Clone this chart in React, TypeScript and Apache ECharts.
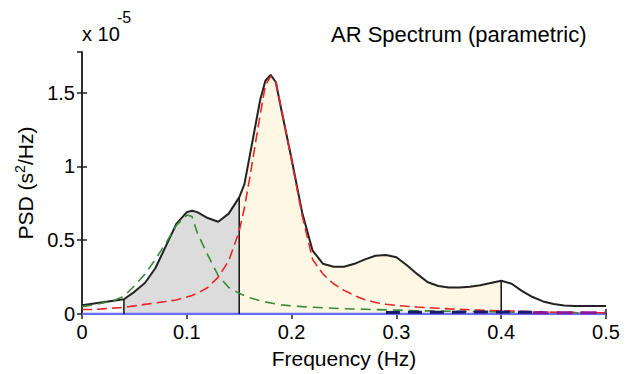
import React, { useEffect, useRef } from "react";
import * as echarts from "echarts";

// Frequency grid (Hz) shared by total PSD and components
const freq = [0, 0.01, 0.02, 0.03, 0.04, 0.05, 0.06, 0.07, 0.08, 0.09, 0.1, 0.105, 0.11, 0.12, 0.13, 0.14, 0.15, 0.155, 0.16, 0.17, 0.175, 0.18, 0.185, 0.19, 0.2, 0.21, 0.22, 0.23, 0.24, 0.25, 0.26, 0.27, 0.28, 0.29, 0.3, 0.31, 0.32, 0.33, 0.34, 0.35, 0.36, 0.37, 0.38, 0.39, 0.4, 0.41, 0.42, 0.43, 0.44, 0.45, 0.46, 0.47, 0.48, 0.49, 0.5];

// Total PSD (x 1e-5 s^2/Hz)
const totalPsd = [0.06, 0.07, 0.08, 0.09, 0.1, 0.15, 0.21, 0.31, 0.46, 0.61, 0.69, 0.7, 0.69, 0.65, 0.625, 0.68, 0.79, 0.88, 1.07, 1.45, 1.58, 1.62, 1.57, 1.39, 1.05, 0.69, 0.43, 0.34, 0.32, 0.32, 0.34, 0.37, 0.395, 0.4, 0.385, 0.33, 0.27, 0.215, 0.19, 0.18, 0.18, 0.185, 0.195, 0.21, 0.225, 0.205, 0.155, 0.115, 0.085, 0.068, 0.058, 0.054, 0.054, 0.054, 0.054];

// HF component (red dashed)
const hfComp = [0.03, 0.03, 0.035, 0.04, 0.045, 0.055, 0.065, 0.075, 0.085, 0.095, 0.115, 0.125, 0.14, 0.18, 0.25, 0.36, 0.56, 0.72, 0.92, 1.35, 1.55, 1.61, 1.57, 1.4, 1.04, 0.67, 0.37, 0.27, 0.205, 0.16, 0.125, 0.097, 0.078, 0.066, 0.058, 0.052, 0.047, 0.043, 0.039, 0.035, 0.032, 0.029, 0.026, 0.024, 0.022, 0.02, 0.018, 0.016, 0.014, 0.012, 0.011, 0.01, 0.009, 0.008, 0.008];

// LF component (green dashed)
const lfComp = [0.05, 0.06, 0.075, 0.09, 0.12, 0.19, 0.27, 0.37, 0.48, 0.6, 0.67, 0.66, 0.55, 0.4, 0.26, 0.18, 0.14, 0.125, 0.11, 0.09, 0.082, 0.075, 0.068, 0.062, 0.055, 0.05, 0.046, 0.042, 0.039, 0.036, 0.034, 0.032, 0.03, 0.028, 0.026, 0.024, 0.022, 0.021, 0.02, 0.019, 0.018, 0.017, 0.016, 0.015, 0.014, 0.013, 0.012, 0.011, 0.01, 0.01, 0.009, 0.009, 0.008, 0.008, 0.008];

// Minor components near zero
const navyFreq = [0.29, 0.33, 0.37, 0.41, 0.44];
const navyComp = [0.01, 0.012, 0.013, 0.013, 0.01];
const purpleFreq = [0.43, 0.5];
const purpleComp = [0.008, 0.008];

// Band limits (Hz)
const bandEdges = [0.04, 0.15, 0.4];
const lfBand = [0.04, 0.15];
const hfBand = [0.15, 0.4];

// Tick labels
const xTicks = [0, 0.1, 0.2, 0.3, 0.4, 0.5];
const yTicks = [0, 0.5, 1, 1.5];

const FONT = "'Liberation Sans', Arial, Helvetica, sans-serif";

function pairs(xs: number[], ys: number[]) {
  return xs.map((x, i) => [x, ys[i]]);
}
function bandData(lo: number, hi: number) {
  const out: number[][] = [];
  freq.forEach((f, i) => {
    if (f >= lo - 1e-9 && f <= hi + 1e-9) out.push([f, totalPsd[i]]);
  });
  return out;
}
function totalAt(f: number) {
  const i = freq.findIndex((v) => Math.abs(v - f) < 1e-9);
  return totalPsd[i];
}

export default function App() {
  const ref = useRef<HTMLDivElement>(null);
  useEffect(() => {
    if (!ref.current) return;
    const chart = echarts.init(ref.current, null, { renderer: "svg" });
    const axisCommon = {
      type: "value" as const,
      axisLine: { show: true, lineStyle: { color: "#222", width: 1.5 } },
      axisTick: { show: true, inside: true, length: 5, lineStyle: { color: "#222", width: 1.5 } },
      splitLine: { show: false },
    };
    const vlines = bandEdges.map((b) => ({
      type: "line",
      data: [[b, 0], [b, totalAt(b)]],
      symbol: "none",
      lineStyle: { color: "#111", width: 1.5 },
      z: 3,
    }));
    const option: any = {
      animation: false,
      backgroundColor: "#fff",
      textStyle: { fontFamily: FONT },
      title: {
        text: "AR Spectrum (parametric)",
        left: 326,
        top: 18,
        textStyle: { fontFamily: FONT, fontSize: 22, fontWeight: "normal", color: "#000" },
      },
      grid: { left: 82, top: 52, right: 19, bottom: 60, containLabel: false },
      xAxis: [
        {
          ...axisCommon,
          min: 0,
          max: 0.5,
          interval: 0.1,
          position: "bottom",
          name: "Frequency (Hz)",
          nameLocation: "middle",
          nameGap: 34,
          nameTextStyle: { fontFamily: FONT, fontSize: 21, color: "#000" },
          axisLabel: {
            margin: 8,
            fontFamily: FONT,
            fontSize: 20,
            color: "#000",
            formatter: (v: number) => {
              const t = xTicks.find((k) => Math.abs(k - v) < 1e-9);
              return t === undefined ? "" : String(t);
            },
          },
        },
        {
          ...axisCommon,
          min: 0,
          max: 0.5,
          interval: 0.1,
          position: "top",
          axisLabel: { show: false },
        },
      ],
      yAxis: [
        {
          ...axisCommon,
          min: 0,
          max: 1.775,
          interval: 0.5,
          position: "left",
          name: "{a|PSD (s}{sup|2}{a|/Hz)}",
          nameLocation: "middle",
          nameGap: 38,
          nameTextStyle: {
            fontFamily: FONT,
            fontSize: 21,
            color: "#000",
            rich: {
              a: { fontFamily: FONT, fontSize: 21, color: "#000", lineHeight: 26 },
              sup: { fontFamily: FONT, fontSize: 14, color: "#000", verticalAlign: "top", lineHeight: 26 },
            },
          },
          axisLabel: {
            margin: 7,
            fontFamily: FONT,
            fontSize: 20,
            color: "#000",
            showMaxLabel: false,
            formatter: (v: number) => {
              const t = yTicks.find((k) => Math.abs(k - v) < 1e-9);
              return t === undefined ? "" : String(t);
            },
          },
        },
        {
          ...axisCommon,
          min: 0,
          max: 1.775,
          interval: 0.5,
          position: "right",
          axisLabel: { show: false },
        },
      ],
      graphic: [
        {
          type: "text",
          left: 82,
          top: 24,
          style: { text: "x 10", fontFamily: FONT, fontSize: 20, fill: "#000" },
        },
        {
          type: "text",
          left: 117,
          top: 9,
          style: { text: "-5", fontFamily: FONT, fontSize: 16, fill: "#000" },
        },
      ],
      series: [
        {
          type: "line",
          data: bandData(lfBand[0], lfBand[1]),
          symbol: "none",
          lineStyle: { width: 0, opacity: 0 },
          areaStyle: { color: "#dcdcdc", opacity: 1 },
          z: 1,
        },
        {
          type: "line",
          data: bandData(hfBand[0], hfBand[1]),
          symbol: "none",
          lineStyle: { width: 0, opacity: 0 },
          areaStyle: { color: "#fdf7e3", opacity: 1 },
          z: 1,
        },
        {
          type: "line",
          data: [[0, 0], [0.5, 0]],
          symbol: "none",
          lineStyle: { color: "#6b6bff", width: 2.5 },
          z: 2,
        },
        ...vlines,
        {
          type: "line",
          data: pairs(freq, totalPsd),
          symbol: "none",
          lineStyle: { color: "#222", width: 2 },
          z: 4,
        },
        {
          type: "line",
          data: pairs(freq, lfComp),
          symbol: "none",
          lineStyle: { color: "#3b8a3b", width: 1.6, type: [10, 6] },
          z: 5,
        },
        {
          type: "line",
          data: pairs(freq, hfComp),
          symbol: "none",
          lineStyle: { color: "#e8262a", width: 1.6, type: [10, 5] },
          z: 5,
        },
        {
          type: "line",
          data: pairs(navyFreq, navyComp),
          symbol: "none",
          lineStyle: { color: "#1a1a6e", width: 3, type: [14, 8] },
          z: 5,
        },
        {
          type: "line",
          data: pairs(purpleFreq, purpleComp),
          symbol: "none",
          lineStyle: { color: "#8a1a9a", width: 3, type: [16, 8] },
          z: 5,
        },
      ],
    };
    chart.setOption(option);
    return () => chart.dispose();
  }, []);
  return (
    <div
      ref={ref}
      style={{ position: "absolute", left: 0, top: 0, width: 625, height: 374, background: "#fff" }}
    />
  );
}
